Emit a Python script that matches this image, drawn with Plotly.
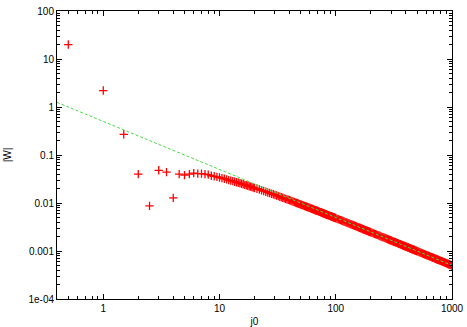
import plotly.graph_objects as go

# |W| against j0 (red crosses)
j0 = [0.5, 1, 1.5, 2, 2.5, 3, 3.5, 4, 4.5, 5, 5.5, 6, 6.5, 7, 7.5, 8, 8.5, 9, 9.5, 10,
      10.5, 11, 11.5, 12, 12.5, 13, 13.5, 14, 14.5, 15, 15.5, 16, 16.5, 17, 17.5, 18, 18.5, 19, 19.5, 20,
      21, 22, 23, 24, 25, 26, 27, 28, 29, 30, 31, 32, 33, 34, 35, 36, 37, 38, 39, 40,
      41, 42, 43, 44, 45, 46, 47, 48, 49, 50,
      52, 54, 56, 58, 60, 62, 64, 66, 68, 70, 72, 74, 76, 78, 80, 82, 84, 86, 88, 90, 92, 94, 96, 98, 100,
      105, 110, 115, 120, 125, 130, 135, 140, 145, 150, 155, 160, 165, 170, 175, 180, 185, 190, 195, 200,
      210, 220, 230, 240, 250, 260, 270, 280, 290, 300, 310, 320, 330, 340, 350, 360, 370, 380, 390, 400,
      410, 420, 430, 440, 450, 460, 470, 480, 490, 500,
      520, 540, 560, 580, 600, 620, 640, 660, 680, 700, 720, 740, 760, 780, 800, 820, 840, 860, 880, 900,
      920, 940, 960, 980, 1000]
W = [20, 2.2, 0.27, 0.040, 0.0087, 0.048, 0.044, 0.0128, 0.040, 0.038, 0.040, 0.042, 0.041, 0.041, 0.040,
     0.039, 0.037, 0.036, 0.035, 0.034,
     0.033, 0.032, 0.031, 0.030, 0.0293, 0.0285, 0.0278, 0.0271, 0.0264, 0.0257, 0.0251, 0.0245, 0.0239,
     0.0234, 0.0229, 0.0224, 0.0219, 0.0214, 0.0210, 0.0205,
     0.0198, 0.0191, 0.0184, 0.0178, 0.0172, 0.0166, 0.0161, 0.0156, 0.0152, 0.0147, 0.0143, 0.0139,
     0.0135, 0.0132, 0.0129, 0.0125, 0.0122, 0.0119, 0.0117, 0.0114,
     0.0112, 0.0109, 0.0107, 0.0105, 0.0102, 0.0100, 0.00985, 0.00966, 0.00948, 0.0093,
     0.00897, 0.00866, 0.00837, 0.00810, 0.00785, 0.00761, 0.00739, 0.00717, 0.00697, 0.00679, 0.00661,
     0.00644, 0.00628, 0.00612, 0.00598, 0.00584, 0.00570, 0.00558, 0.00546, 0.00534, 0.00523, 0.00512,
     0.00502, 0.00492, 0.00483,
     0.00460, 0.00440, 0.00422, 0.00405, 0.00389, 0.00374, 0.00361, 0.00348, 0.00337, 0.00326, 0.00315,
     0.00306, 0.00297, 0.00288, 0.00280, 0.00272, 0.00265, 0.00258, 0.00252, 0.00246,
     0.00234, 0.00224, 0.00214, 0.00205, 0.00197, 0.00190, 0.00183, 0.00176, 0.00170, 0.00165, 0.00159,
     0.00155, 0.00150, 0.00146, 0.00141, 0.00138, 0.00134, 0.00130, 0.00127, 0.00124,
     0.00121, 0.00118, 0.00115, 0.00113, 0.00110, 0.00108, 0.00106, 0.00103, 0.00101, 0.000993,
     0.000955, 0.000920, 0.000887, 0.000857, 0.000828, 0.000802, 0.000777, 0.000754, 0.000731, 0.000711,
     0.000691, 0.000672, 0.000655, 0.000638, 0.000622, 0.000607, 0.000593, 0.000579, 0.000566, 0.000553,
     0.000541, 0.000530, 0.000519, 0.000508, 0.000498]

# more readings from the dense tail, between the ones above
j0_tail = [51, 53, 55, 57, 59, 61, 63, 65, 67, 69, 71, 73, 75, 77, 79, 81, 83, 85, 87, 89, 91, 93, 95, 97, 99,
           102.5, 107.5, 112.5, 117.5, 122.5, 127.5, 132.5, 137.5, 142.5, 147.5,
           152.5, 157.5, 162.5, 167.5, 172.5, 177.5, 182.5, 187.5, 192.5, 197.5,
           205, 215, 225, 235, 245, 255, 265, 275, 285, 295, 305, 315, 325, 335, 345,
           355, 365, 375, 385, 395, 405, 415, 425, 435, 445, 455, 465, 475, 485, 495,
           510, 530, 550, 570, 590, 610, 630, 650, 670, 690, 710, 730, 750, 770, 790,
           810, 830, 850, 870, 890, 910, 930, 950, 970, 990]
W_tail = [0.00913, 0.00881, 0.00851, 0.00823, 0.00797, 0.00773, 0.00750, 0.00728, 0.00707, 0.00688,
          0.00670, 0.00652, 0.00636, 0.00620, 0.00605, 0.00591, 0.00577, 0.00564, 0.00552, 0.00540,
          0.00528, 0.00517, 0.00507, 0.00497, 0.00487,
          0.00471, 0.00450, 0.00431, 0.00413, 0.00397, 0.00381, 0.00367, 0.00354, 0.00342, 0.00331,
          0.00320, 0.00310, 0.00301, 0.00292, 0.00284, 0.00276, 0.00269, 0.00262, 0.00255, 0.00249,
          0.00240, 0.00229, 0.00219, 0.00210, 0.00201, 0.00193, 0.00186, 0.00180, 0.00173, 0.00167,
          0.00162, 0.00157, 0.00152, 0.00148, 0.00143, 0.00139, 0.00136, 0.00132, 0.00129, 0.00125,
          0.00122, 0.00119, 0.00117, 0.00114, 0.00111, 0.00109, 0.00107, 0.00105, 0.00102, 0.00100,
          0.000974, 0.000937, 0.000903, 0.000872, 0.000842, 0.000815, 0.000790, 0.000765, 0.000742, 0.000721,
          0.000701, 0.000682, 0.000664, 0.000646, 0.000630, 0.000614, 0.000600, 0.000586, 0.000573, 0.000560,
          0.000547, 0.000536, 0.000524, 0.000513, 0.000503]

# asymptote (green dashed)
fit_x = [0.4, 1000]
fit_y = [1.25, 0.0005]

x_ticks = [1, 10, 100, 1000]
x_labels = ["1", "10", "100", "1000"]
y_ticks = [1e-4, 1e-3, 1e-2, 0.1, 1, 10, 100]
y_labels = ["1e-04", "0.001", "0.01", "0.1", "1", "10", "100"]

fig = go.Figure()
fig.add_trace(go.Scatter(x=j0 + j0_tail, y=W + W_tail, mode="markers",
                         marker=dict(symbol="cross-thin-open", size=6, color="red",
                                     line=dict(color="red", width=1.3))))
fig.add_trace(go.Scatter(x=fit_x, y=fit_y, mode="lines",
                         line=dict(color="#44dd44", width=1, dash="3px,2px")))

font = dict(family="Liberation Sans", size=10, color="black")
axis_common = dict(type="log", showgrid=False, zeroline=False, showline=True,
                   linecolor="black", linewidth=1, mirror="allticks", automargin=False,
                   ticks="inside", ticklen=5, tickcolor="black", tickfont=font,
                   minor=dict(ticks="inside", ticklen=3, tickcolor="black", dtick="D1",
                              showgrid=False))

fig.update_xaxes(range=[-0.398, 3], tickvals=x_ticks, ticktext=x_labels,
                 title=dict(text="j0", font=font, standoff=4),
                 **axis_common)
fig.update_yaxes(range=[-4, 2], tickvals=y_ticks, ticktext=y_labels,
                 title=dict(text="|W|", font=font, standoff=14),
                 **axis_common)

fig.update_layout(width=467, height=327, showlegend=False,
                  paper_bgcolor="white", plot_bgcolor="white",
                  margin=dict(l=57, r=15, t=11, b=28))

# drop the page's default body margin so the figure sits at the window corner
fig.write_html("out.html", config={"displayModeBar": False},
               post_script="document.body.style.margin = '0';")
